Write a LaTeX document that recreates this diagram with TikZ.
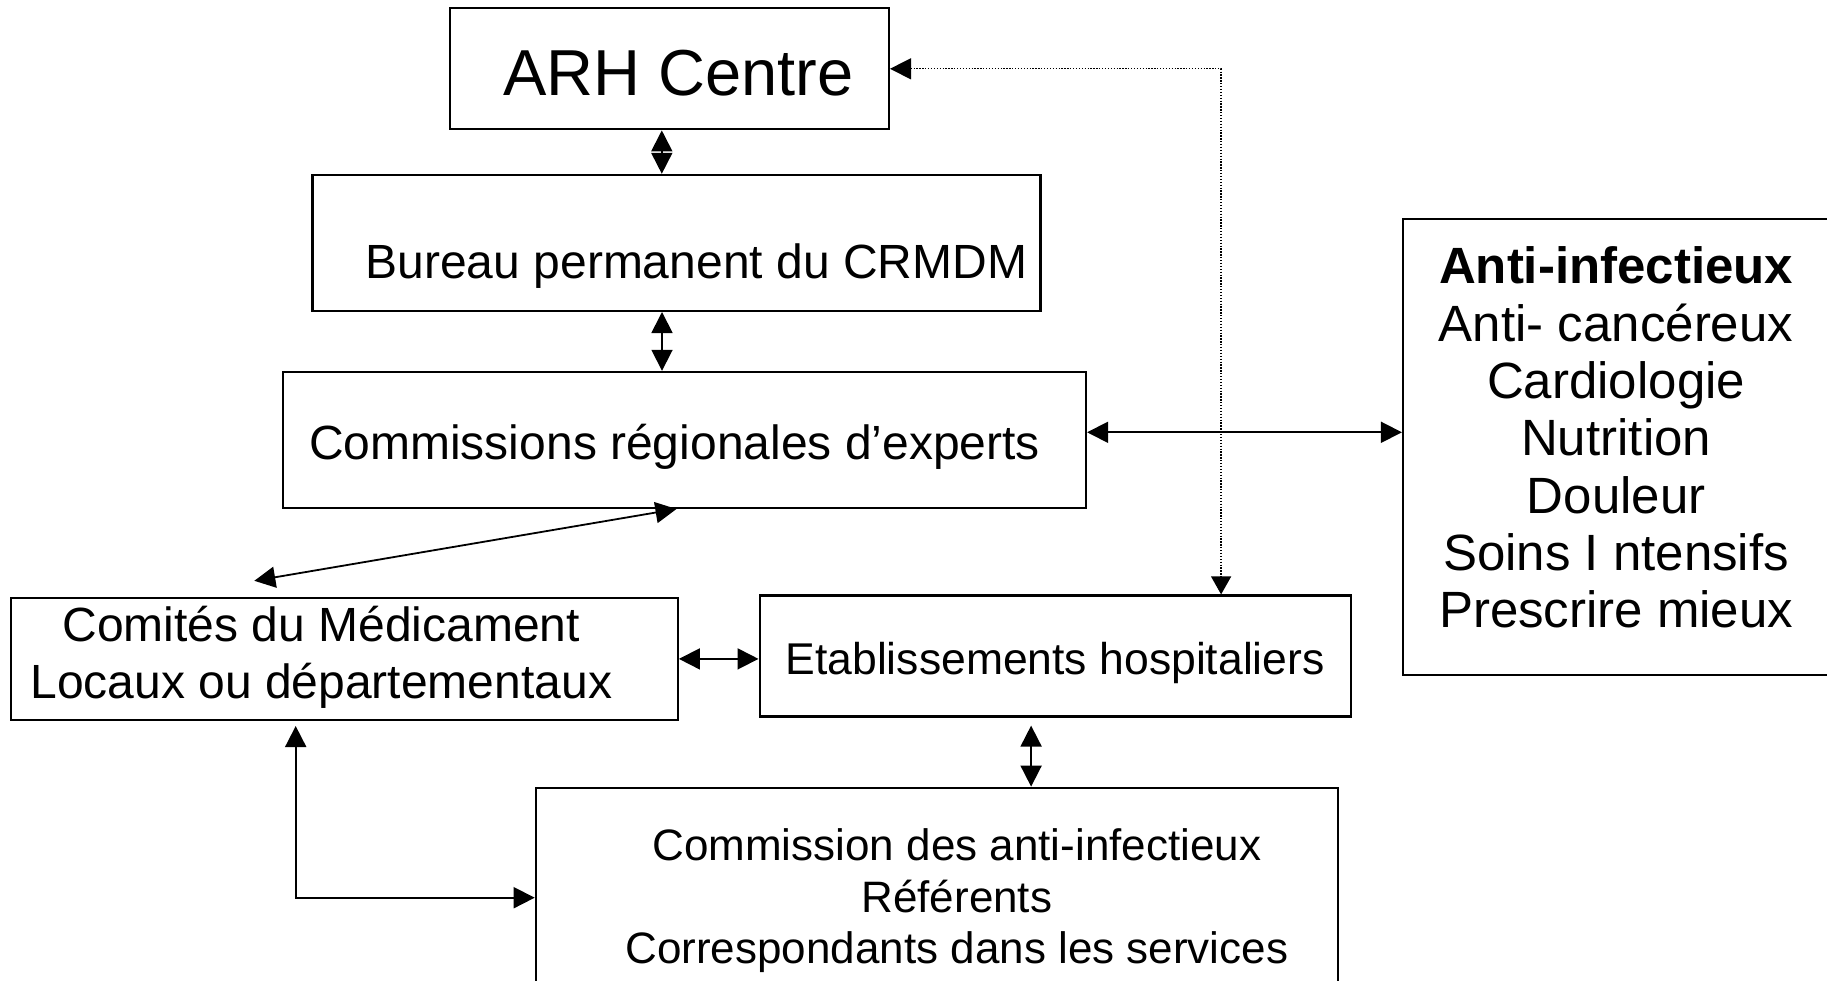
\documentclass[tikz,border=0pt]{standalone}
\usepackage{fontspec}
\setmainfont{Liberation Sans}
\usetikzlibrary{arrows.meta}

\begin{document}
\begin{tikzpicture}
[
x=1pt, y=-1pt,
box-a/.style={rectangle, draw, line width=2.2pt, inner sep=0pt},
text-a/.style={black, align=center, inner sep=0pt},
link-a/.style={line width=1.8pt, {Triangle[length=21pt,width=21pt]}-{Triangle[length=21pt,width=21pt]}},
link-b/.style={line width=1.3pt, dash pattern=on 1.3pt off 1.6pt, {Triangle[length=21pt,width=21pt]}-{Triangle[length=18pt,width=20pt]}}
]
\clip (0,0) rectangle (1827,981);
% boxes
\node (arh)     [box-a, minimum width=439pt, minimum height=121pt] at (669.4,68.8)  {};
\node (bureau)  [box-a, minimum width=728pt, minimum height=136pt] at (676.4,242.9) {};
\node (comm)    [box-a, minimum width=803pt, minimum height=136pt] at (684.5,439.9) {};
\node (comites) [box-a, minimum width=667pt, minimum height=122pt] at (344.3,658.9) {};
\node (etab)    [box-a, minimum width=591pt, minimum height=121pt] at (1055.1,656) {};
\node (anti)    [box-a, minimum width=802pt, minimum height=220pt] at (936.8,897.7) {};
\node (spec)    [box-a, minimum width=447pt, minimum height=456pt] at (1626.5,446.8) {};
% texts
\node (arh-txt)     [text-a, font=\fontsize{65}{78}\selectfont] at ([xshift=9pt,yshift=-4pt]arh.center) {ARH Centre};
\node (bureau-txt)  [text-a, font=\fontsize{48}{57}\selectfont] at ([xshift=20pt,yshift=-23pt]bureau.center) {Bureau permanent du CRMDM};
\node (comm-txt)    [text-a, font=\fontsize{48}{57}\selectfont] at ([xshift=-10pt,yshift=-7pt]comm.center) {Commissions régionales d’experts};
\node (comites-txt) [text-a, font=\fontsize{48}{57}\selectfont] at ([xshift=-23pt,yshift=2pt]comites.center) {Comités du Médicament\\Locaux ou départementaux};
\node (etab-txt)    [text-a, font=\fontsize{44.5}{51}\selectfont] at ([yshift=-7pt]etab.center) {Etablissements hospitaliers};
\node (anti-txt)    [text-a, font=\fontsize{44}{51.3}\selectfont] at ([xshift=20pt,yshift=-3pt]anti.center) {Commission des anti-infectieux\\Référents\\Correspondants dans les services};
\node (spec-txt)    [text-a, font=\fontsize{51}{57.3}\selectfont] at (1616.1,437.5) {\textbf{Anti-infectieux}\\Anti- cancéreux\\Cardiologie\\Nutrition\\Douleur\\Soins I ntensifs\\Prescrire mieux};
% links
\coordinate (comites-top) at ([xshift=-90pt,yshift=16pt]comites.north);
\draw [link-a] ([xshift=-7.6pt]arh.south) -- ([xshift=-7.6pt]arh.south |- bureau.north);
\draw [link-a] ([xshift=-14.4pt]bureau.south) -- ([xshift=-14.4pt]bureau.south |- comm.north);
\draw [link-a] ([yshift=7.6pt]comm.east) -- ([yshift=7.6pt]comm.east -| spec.west);
\draw [link-a] ([xshift=-8pt]comm.south) -- (comites-top);
\draw [link-a] (comites.east) -- (comites.east -| etab.west);
\draw [link-a] ([xshift=-24pt,yshift=-8pt]etab.south) -- ([xshift=-24pt]etab.south |- anti.north);
\draw [link-a] ([xshift=-48.6pt,yshift=-5pt]comites.south) |- (anti.west);
\draw [link-b] (arh.east) -| ([xshift=166pt]etab.north);
\end{tikzpicture}
\end{document}
